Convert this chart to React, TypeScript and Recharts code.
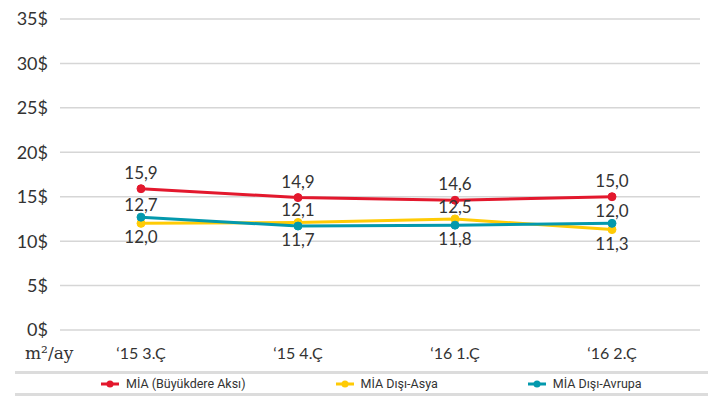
import { LineChart, Line, XAxis, YAxis, CartesianGrid, LabelList } from "recharts"

const quarters = ["\u201815 3.Ç", "\u201815 4.Ç", "\u201816 1.Ç", "\u201816 2.Ç"]
const buyukdere = [15.9, 14.9, 14.6, 15.0]
const disiAsya = [12.0, 12.1, 12.5, 11.3]
const disiAvrupa = [12.7, 11.7, 11.8, 12.0]
const yTicks = [0, 5, 10, 15, 20, 25, 30, 35]

const SERIES = [
  { key: "buyukdere", name: "MİA (Büyükdere Aksı)", color: "#e3182d" },
  { key: "asya", name: "MİA Dışı-Asya", color: "#ffcb05" },
  { key: "avrupa", name: "MİA Dışı-Avrupa", color: "#0399ad" },
]

const data = quarters.map((q, i) => ({
  q,
  buyukdere: buyukdere[i],
  asya: disiAsya[i],
  avrupa: disiAvrupa[i],
}))

const fmt = (v: number) => v.toFixed(1).replace(".", ",")

// label goes above when this series sits above its neighbour, below otherwise
function labelFor(own: number[], other: number[] | null) {
  return (p: any) => {
    const i = p.index as number
    const above = other === null || own[i] >= other[i]
    const dy = other === null ? -10 : above ? -6 : 20
    return (
      <text
        x={p.x}
        y={p.y + dy}
        textAnchor="middle"
        fill="#333"
        fontSize={17}
        fontFamily="Lato, sans-serif"
      >
        {fmt(p.value)}
      </text>
    )
  }
}

function LegendBox() {
  return (
    <div
      style={{
        position: "absolute",
        left: 15,
        top: 371,
        width: 693,
        display: "flex",
        gap: 90,
        paddingLeft: 86,
        boxSizing: "border-box",
        borderTop: "3px solid #dcdcdc",
        borderBottom: "3px solid #dcdcdc",
        height: 25,
        alignItems: "center",
        fontFamily: "Roboto, sans-serif",
        fontSize: 12.5,
        color: "#333",
      }}
    >
      {SERIES.map((s) => (
        <div key={s.key} style={{ display: "flex", alignItems: "center" }}>
          <svg width={18} height={8} style={{ marginRight: 7 }}>
            <line x1={0} y1={4} x2={18} y2={4} stroke={s.color} strokeWidth={3} />
            <circle cx={9} cy={4} r={3.5} fill={s.color} />
          </svg>
          {s.name}
        </div>
      ))}
    </div>
  )
}

export default function App() {
  return (
    <div style={{ position: "absolute", left: 0, top: 0, width: 708, height: 399, background: "#fff" }}>
      <LineChart width={708} height={399} data={data} margin={{ top: 19, right: 8, left: 0, bottom: 39 }}>
        <CartesianGrid horizontal vertical={false} stroke="#d6d6d6" strokeWidth={1.5} />
        <XAxis
          dataKey="q"
          height={30}
          axisLine={false}
          tickLine={false}
          padding={{ left: 81, right: 88 }}
          tick={{ fill: "#333", fontSize: 16, fontFamily: "Lato, sans-serif" }}
          tickMargin={12}
        />
        <YAxis
          width={60}
          domain={[0, 35]}
          ticks={yTicks}
          interval={0}
          axisLine={false}
          tickLine={false}
          tickMargin={6}
          tickFormatter={(v: number) => `${v}$`}
          tick={{ fill: "#333", fontSize: 18, fontFamily: "Lato, sans-serif" }}
          label={{
            content: () => (
              <text x={25} y={359} fill="#333" fontSize={17} fontFamily="DejaVu Serif, serif">
                m²/ay
              </text>
            ),
          }}
        />
        <Line
          dataKey="buyukdere"
          name={SERIES[0].name}
          stroke={SERIES[0].color}
          strokeWidth={3}
          dot={{ r: 4, fill: SERIES[0].color, stroke: SERIES[0].color, strokeWidth: 1 }}
          isAnimationActive={false}
        >
          <LabelList dataKey="buyukdere" content={labelFor(buyukdere, null)} />
        </Line>
        <Line
          dataKey="asya"
          name={SERIES[1].name}
          stroke={SERIES[1].color}
          strokeWidth={3}
          dot={{ r: 4, fill: SERIES[1].color, stroke: SERIES[1].color, strokeWidth: 1 }}
          isAnimationActive={false}
        >
          <LabelList dataKey="asya" content={labelFor(disiAsya, disiAvrupa)} />
        </Line>
        <Line
          dataKey="avrupa"
          name={SERIES[2].name}
          stroke={SERIES[2].color}
          strokeWidth={3}
          dot={{ r: 4, fill: SERIES[2].color, stroke: SERIES[2].color, strokeWidth: 1 }}
          isAnimationActive={false}
        >
          <LabelList dataKey="avrupa" content={labelFor(disiAvrupa, disiAsya)} />
        </Line>
      </LineChart>
      <LegendBox />
    </div>
  )
}
